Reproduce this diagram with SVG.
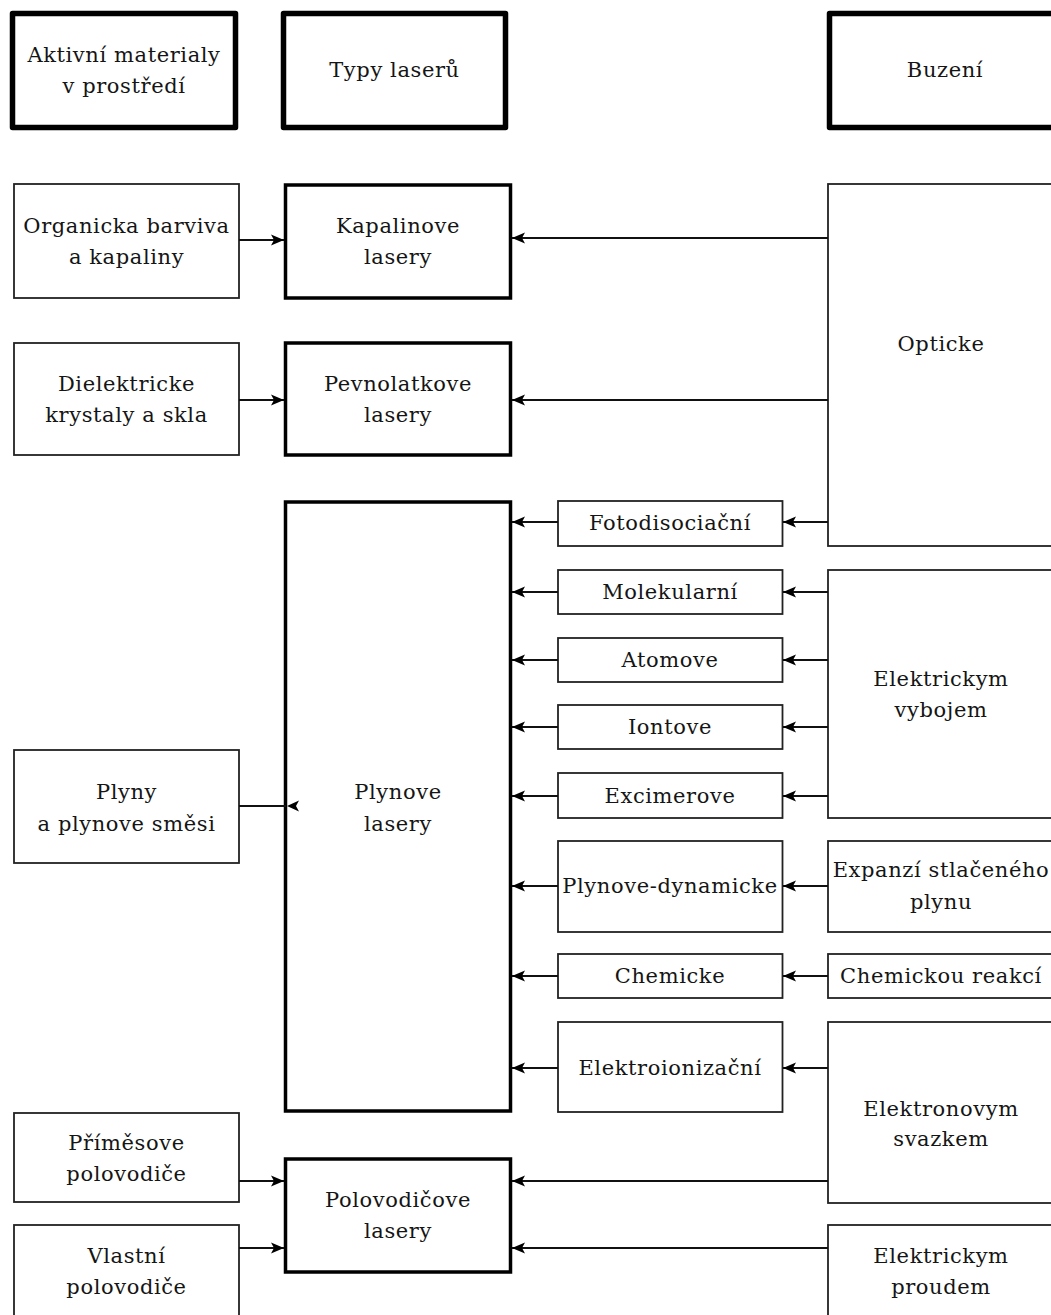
<svg xmlns="http://www.w3.org/2000/svg" width="1051" height="1315" viewBox="0 0 1051 1315">
<style>
  text { font-family: "DejaVu Serif", "Liberation Serif", serif; font-size: 21px; letter-spacing: 0.6px; fill: #151515; text-anchor: middle; }
  .hdr { fill: #fff; stroke: #000; stroke-width: 5.5; stroke-linejoin: round; }
  .typ { fill: #fff; stroke: #000; stroke-width: 3.5; }
  .box { fill: #fff; stroke: #222; stroke-width: 1.8; }
  .con line { stroke: #111; stroke-width: 1.8; }
</style>
<defs>
  <marker id="ah" markerWidth="14" markerHeight="12" refX="13" refY="6" orient="auto" markerUnits="userSpaceOnUse">
    <path d="M0,0.5 L13,6 L0,11.5 L3,6 Z" fill="#000"/>
  </marker>
</defs>
<rect width="1051" height="1315" fill="#fff"/>

<!-- header -->
<g id="hdr-aktivni"><rect class="hdr" x="12.5" y="13.5" width="223" height="114"/><text x="124" y="62">Aktivní materialy</text><text x="124" y="93">v prostředí</text></g>
<g id="hdr-typy"><rect class="hdr" x="283.5" y="13.5" width="222" height="114"/><text x="394.5" y="77">Typy laserů</text></g>
<g id="hdr-buzeni"><rect class="hdr" x="829.5" y="13.5" width="240" height="114"/><text x="945" y="77">Buzení</text></g>

<!-- left column -->
<g id="organicka"><rect class="box" x="14" y="184" width="225" height="114"/><text x="126.5" y="233">Organicka barviva</text><text x="126.5" y="264">a kapaliny</text></g>
<g id="dielektricke"><rect class="box" x="14" y="343" width="225" height="112"/><text x="126.5" y="391">Dielektricke</text><text x="126.5" y="422">krystaly a skla</text></g>
<g id="plyny"><rect class="box" x="14" y="750" width="225" height="113"/><text x="126.5" y="799">Plyny</text><text x="126.5" y="831">a plynove směsi</text></g>
<g id="primesove"><rect class="box" x="14" y="1113" width="225" height="89"/><text x="126.5" y="1150">Příměsove</text><text x="126.5" y="1181">polovodiče</text></g>
<g id="vlastni"><rect class="box" x="14" y="1225" width="225" height="95"/><text x="126.5" y="1263">Vlastní</text><text x="126.5" y="1294">polovodiče</text></g>

<!-- laser types -->
<g id="kapalinove"><rect class="typ" x="285.5" y="185" width="225" height="113"/><text x="398" y="233">Kapalinove</text><text x="398" y="264">lasery</text></g>
<g id="pevnolatkove"><rect class="typ" x="285.5" y="343" width="225" height="112"/><text x="398" y="391">Pevnolatkove</text><text x="398" y="422">lasery</text></g>
<g id="plynove"><rect class="typ" x="285.5" y="502" width="225" height="609"/><text x="398" y="799">Plynove</text><text x="398" y="831">lasery</text></g>
<g id="polovodicove"><rect class="typ" x="285.5" y="1159" width="225" height="113"/><text x="398" y="1207">Polovodičove</text><text x="398" y="1238">lasery</text></g>

<!-- middle column -->
<g id="fotodisociacni"><rect class="box" x="558" y="501" width="224.5" height="45"/><text x="670" y="530">Fotodisociační</text></g>
<g id="molekularni"><rect class="box" x="558" y="570" width="224.5" height="44"/><text x="670" y="599">Molekularní</text></g>
<g id="atomove"><rect class="box" x="558" y="638" width="224.5" height="44"/><text x="670" y="667">Atomove</text></g>
<g id="iontove"><rect class="box" x="558" y="705" width="224.5" height="44"/><text x="670" y="734">Iontove</text></g>
<g id="excimerove"><rect class="box" x="558" y="773" width="224.5" height="45"/><text x="670" y="803">Excimerove</text></g>
<g id="plynove-dynamicke"><rect class="box" x="558" y="841" width="224.5" height="91"/><text x="670" y="893">Plynove-dynamicke</text></g>
<g id="chemicke"><rect class="box" x="558" y="954" width="224.5" height="44"/><text x="670" y="983">Chemicke</text></g>
<g id="elektroionizacni"><rect class="box" x="558" y="1022" width="224.5" height="90"/><text x="670" y="1075">Elektroionizační</text></g>

<!-- right column -->
<g id="opticke"><rect class="box" x="828" y="184" width="240" height="362"/><text x="941" y="351">Opticke</text></g>
<g id="elektrickym-vybojem"><rect class="box" x="828" y="570" width="240" height="248"/><text x="941" y="686">Elektrickym</text><text x="941" y="717">vybojem</text></g>
<g id="expanzi"><rect class="box" x="828" y="841" width="240" height="91"/><text x="941" y="877">Expanzí stlačeného</text><text x="941" y="909">plynu</text></g>
<g id="chemickou-reakci"><rect class="box" x="828" y="954" width="240" height="44"/><text x="941" y="983">Chemickou reakcí</text></g>
<g id="elektronovym-svazkem"><rect class="box" x="828" y="1022" width="240" height="181"/><text x="941" y="1116">Elektronovym</text><text x="941" y="1146">svazkem</text></g>
<g id="elektrickym-proudem"><rect class="box" x="828" y="1225" width="240" height="100"/><text x="941" y="1263">Elektrickym</text><text x="941" y="1294">proudem</text></g>

<!-- connectors -->
<g id="connectors" class="con">
  <line x1="239" y1="240" x2="284" y2="240" marker-end="url(#ah)"/>
  <line x1="239" y1="400" x2="284" y2="400" marker-end="url(#ah)"/>
  <line x1="828" y1="238" x2="512" y2="238" marker-end="url(#ah)"/>
  <line x1="828" y1="400" x2="512" y2="400" marker-end="url(#ah)"/>

  <line x1="828" y1="522" x2="783" y2="522" marker-end="url(#ah)"/>
  <line x1="558" y1="522" x2="512" y2="522" marker-end="url(#ah)"/>
  <line x1="828" y1="592" x2="783" y2="592" marker-end="url(#ah)"/>
  <line x1="558" y1="592" x2="512" y2="592" marker-end="url(#ah)"/>
  <line x1="828" y1="660" x2="783" y2="660" marker-end="url(#ah)"/>
  <line x1="558" y1="660" x2="512" y2="660" marker-end="url(#ah)"/>
  <line x1="828" y1="727" x2="783" y2="727" marker-end="url(#ah)"/>
  <line x1="558" y1="727" x2="512" y2="727" marker-end="url(#ah)"/>
  <line x1="828" y1="796" x2="783" y2="796" marker-end="url(#ah)"/>
  <line x1="558" y1="796" x2="512" y2="796" marker-end="url(#ah)"/>
  <line x1="828" y1="886" x2="783" y2="886" marker-end="url(#ah)"/>
  <line x1="558" y1="886" x2="512" y2="886" marker-end="url(#ah)"/>
  <line x1="828" y1="976" x2="783" y2="976" marker-end="url(#ah)"/>
  <line x1="558" y1="976" x2="512" y2="976" marker-end="url(#ah)"/>
  <line x1="828" y1="1068" x2="783" y2="1068" marker-end="url(#ah)"/>
  <line x1="558" y1="1068" x2="512" y2="1068" marker-end="url(#ah)"/>

  <line x1="239" y1="806" x2="286" y2="806"/>
  <path d="M287,806 L299,800.5 L296,806 L299,811.5 Z" fill="#000"/>

  <line x1="239" y1="1181" x2="284" y2="1181" marker-end="url(#ah)"/>
  <line x1="239" y1="1248" x2="284" y2="1248" marker-end="url(#ah)"/>
  <line x1="828" y1="1181" x2="512" y2="1181" marker-end="url(#ah)"/>
  <line x1="828" y1="1248" x2="512" y2="1248" marker-end="url(#ah)"/>
</g>
</svg>
